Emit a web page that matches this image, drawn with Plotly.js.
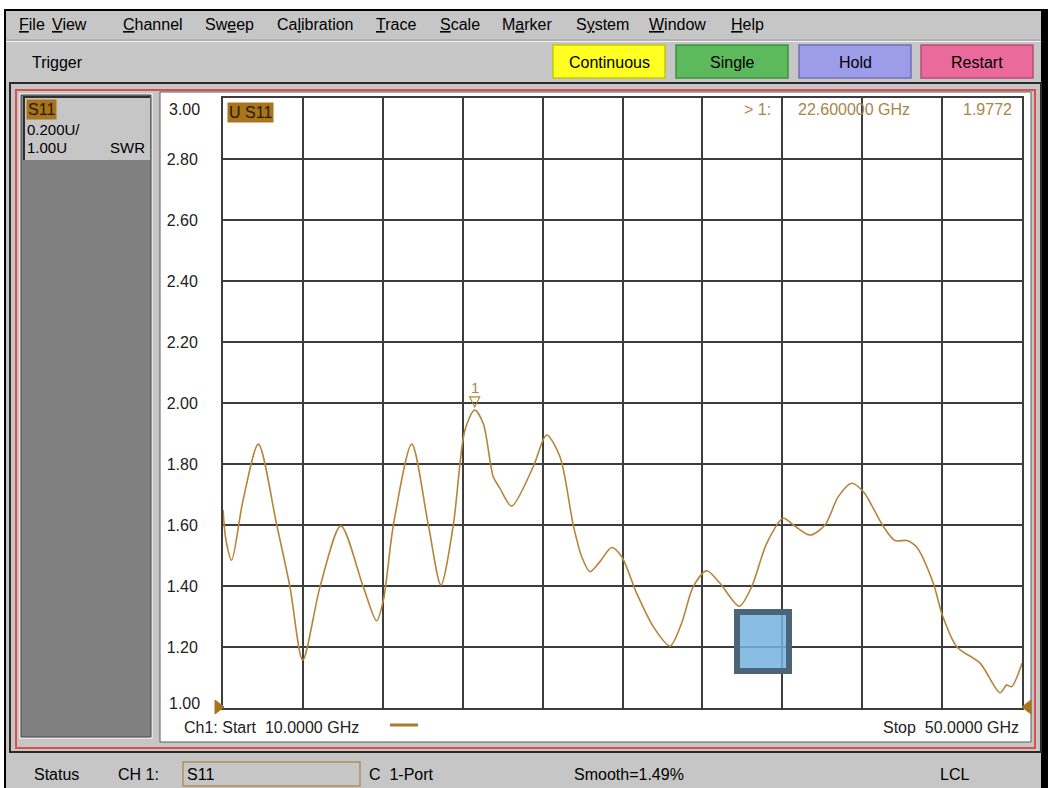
<!DOCTYPE html>
<html><head><meta charset="utf-8">
<script src="https://cdn.plot.ly/plotly-3.0.1.min.js"></script>
<style>html,body{margin:0;padding:0;background:#fff;overflow:hidden}#chart{width:1048px;height:788px}</style>
</head><body><div id="chart"></div>
<script>
// ---------- data ----------
const freqGHz = [10.0, 10.15, 10.43, 11.0, 11.77, 12.69, 13.35, 13.99, 14.86, 15.9, 17.02, 17.69, 18.03, 18.53, 19.45, 20.28, 20.91, 21.53, 22.11, 22.6, 23.03, 23.53, 23.87, 24.45, 25.53, 26.2, 26.87, 27.54, 27.96, 28.37, 28.87, 29.46, 29.96, 30.71, 31.54, 32.38, 32.96, 33.54, 34.21, 34.88, 35.85, 36.47, 37.22, 38.05, 38.55, 39.39, 40.14, 40.8, 41.47, 42.06, 43.06, 43.64, 44.23, 44.73, 45.56, 46.01, 46.73, 47.9, 48.9, 49.23, 49.48, 50.0];
const swr = [1.65, 1.55, 1.485, 1.68, 1.865, 1.60, 1.398, 1.157, 1.398, 1.597, 1.398, 1.286, 1.354, 1.60, 1.865, 1.60, 1.403, 1.60, 1.911, 1.977, 1.933, 1.758, 1.72, 1.662, 1.791, 1.895, 1.824, 1.598, 1.496, 1.447, 1.48, 1.526, 1.496, 1.376, 1.267, 1.203, 1.278, 1.398, 1.45, 1.409, 1.334, 1.398, 1.54, 1.622, 1.60, 1.567, 1.60, 1.693, 1.737, 1.709, 1.595, 1.549, 1.549, 1.527, 1.409, 1.305, 1.201, 1.147, 1.05, 1.075, 1.07, 1.147];
const markerFreq = [22.6];
const markerSwr = [1.9772];
const yTickVals = [1.2, 1.4, 1.6, 1.8, 2.0, 2.2, 2.4, 2.6, 2.8];
const yTickText = ['1.20', '1.40', '1.60', '1.80', '2.00', '2.20', '2.40', '2.60', '2.80'];
const yEndLabels = ['3.00', '1.00'];
const xTickVals = [14, 18, 22, 26, 30, 34, 38, 42, 46];
const menuItems = ['<u>F</u>ile', '<u>V</u>iew', '<u>C</u>hannel', 'Sw<u>e</u>ep', 'Ca<u>l</u>ibration', '<u>T</u>race', '<u>S</u>cale', 'M<u>a</u>rker', 'S<u>y</u>stem', '<u>W</u>indow', '<u>H</u>elp'];
const buttonLabels = ['Continuous', 'Single', 'Hold', 'Restart'];
const startLabel = 'Ch1: Start  10.0000 GHz';
const stopLabel = 'Stop  50.0000 GHz';

// ---------- layout helpers (pixels -> paper) ----------
const L = 223, R = 1022, T = 98, B = 708;
const X = px => (px - L) / (R - L);
const Y = py => (B - py) / (B - T);
const FONT = 'Liberation Sans, Arial, sans-serif';
const shapes = [];
const ann = [];
function rect(x0, y0, x1, y1, fill, lc, lw, layer) {
  shapes.push({type: 'rect', xref: 'paper', yref: 'paper', x0: X(x0), x1: X(x1), y0: Y(y1), y1: Y(y0),
    fillcolor: fill, line: {color: lc || 'rgba(0,0,0,0)', width: lw || 0}, layer: layer || 'below'});
}
function hline(x0, y, x1, color, w, layer) {
  shapes.push({type: 'line', xref: 'paper', yref: 'paper', x0: X(x0), x1: X(x1), y0: Y(y), y1: Y(y),
    line: {color: color, width: w}, layer: layer || 'below'});
}
function vline(x, y0, y1, color, w, layer) {
  shapes.push({type: 'line', xref: 'paper', yref: 'paper', x0: X(x), x1: X(x), y0: Y(y0), y1: Y(y1),
    line: {color: color, width: w}, layer: layer || 'below'});
}
function poly(pts, fill) {
  const d = pts.map((p, i) => (i ? 'L' : 'M') + X(p[0]) + ',' + Y(p[1])).join(' ') + ' Z';
  shapes.push({type: 'path', xref: 'paper', yref: 'paper', path: d, fillcolor: fill, line: {color: fill, width: 1}, layer: 'above'});
}
function txt(x, y, text, o) {
  o = o || {};
  ann.push({xref: 'paper', yref: 'paper', x: X(x), y: Y(y), text: text, showarrow: false,
    xanchor: o.xa || 'left', yanchor: 'middle', bgcolor: o.bg, borderpad: o.pad == null ? 0 : o.pad,
    font: {family: FONT, size: o.size || 16, color: o.color || '#000'}});
}

// ---------- window chrome ----------
rect(4, 9, 1048, 788, '#000000');
rect(6, 11, 1041, 788, '#c6c6c6');
hline(6, 40, 1041, '#9c9c9c', 1);
hline(6, 41.5, 1041, '#f2f2f2', 1);
const menuX = [18, 51, 122, 204, 276, 375, 439, 501, 575, 648, 730];
menuItems.forEach((m, i) => txt(menuX[i], 25, m));
txt(31, 62, 'Trigger');
const btnX = [553, 676, 799, 921];
const btnFill = ['#ffff22', '#5cba5c', '#9c9ce8', '#ea6a9c'];
const btnEdge = ['#c8c800', '#3f903f', '#7070b8', '#b84c76'];
buttonLabels.forEach((b, i) => {
  rect(btnX[i], 45, btnX[i] + 112, 78, btnFill[i], btnEdge[i], 1.5);
  txt(btnX[i] + 56, 62, b, {xa: 'center'});
});
// frame
rect(10, 83, 1041, 752, '#c6c6c6', '#2a2a2a', 2);
rect(16, 90, 1035, 748, 'rgba(0,0,0,0)', '#d9504c', 2);
// left panel
rect(19, 93, 153, 739, '#e4e4e4');
rect(21, 95, 151, 737, '#808080', '#4a4a4a', 1);
rect(23, 96, 150, 160, '#c6c6c6');
hline(23, 97, 150, '#303030', 2);
vline(24, 96, 160, '#303030', 2);
txt(26, 110, 'S11', {bg: '#a8741c', size: 16, color: '#2a1a00', pad: 1});
txt(26, 129, '0.200U/', {size: 15});
txt(26, 147, '1.00U', {size: 15});
txt(146, 147, 'SWR', {size: 15, xa: 'right'});
// white plot panel
rect(160, 92, 1031, 742, '#ffffff', '#5a5a5a', 1);
// status bar
txt(33, 774, 'Status');
txt(117, 774, 'CH 1:');
rect(183, 762, 360, 786, '#c6c6c6', '#b0905c', 1.5);
txt(186, 774, 'S11');
txt(368, 774, 'C  1-Port');
txt(573, 774, 'Smooth=1.49%');
txt(939, 774, 'LCL');

// ---------- in-plot labels ----------
txt(227, 112, 'U S11', {bg: '#a8741c', size: 16, color: '#2a1a00', pad: 1});
txt(772, 110, '&gt; 1:', {xa: 'right', color: '#a8864a'});
txt(797, 110, markerFreq[0].toFixed(6) + ' GHz', {color: '#a8864a'});
txt(1013, 110, markerSwr[0].toFixed(4), {xa: 'right', color: '#a8864a'});
txt(201, 109, yEndLabels[0], {xa: 'right', color: '#222'});
txt(201, 703, yEndLabels[1], {xa: 'right', color: '#222'});
txt(183, 727, startLabel, {color: '#222'});
txt(1020, 727, stopLabel, {xa: 'right', color: '#222'});
hline(390, 725, 418, '#a97d2c', 3, 'above');
// reference-position arrows
poly([[215, 700], [224, 707], [215, 714]], '#a8741c');
poly([[1031, 700], [1022, 707], [1031, 714]], '#a8741c');
// marker triangle (pixel-sized, anchored on the marker datum)
shapes.push({type: 'path', xref: 'x', yref: 'y', xsizemode: 'pixel', ysizemode: 'pixel',
  xanchor: markerFreq[0], yanchor: markerSwr[0], path: 'M -5 13 L 5 13 L 0 3 Z',
  fillcolor: 'rgba(0,0,0,0)', line: {color: '#b08438', width: 1.2}, layer: 'above'});
ann.push({xref: 'x', yref: 'y', x: markerFreq[0], y: markerSwr[0], yshift: 22, text: '1', showarrow: false,
  font: {family: FONT, size: 15, color: '#a8864a'}});
// overlay square
rect(737, 612, 789, 671, 'rgba(118,178,222,0.85)', '#4b6477', 6, 'above');

const trace = {
  x: freqGHz, y: swr, type: 'scatter', mode: 'lines',
  line: {color: '#b5853a', width: 1.6, shape: 'spline', smoothing: 0.8},
  hoverinfo: 'x+y'
};

const gridC = '#3d3d3d';
const layout = {
  width: 1048, height: 788,
  margin: {l: L, r: 1048 - R, t: T, b: 788 - B, pad: 0},
  paper_bgcolor: '#ffffff', plot_bgcolor: '#ffffff',
  showlegend: false,
  xaxis: {range: [10, 50], tickvals: xTickVals, showticklabels: false, ticks: '',
    showgrid: true, gridcolor: gridC, gridwidth: 2, zeroline: false,
    showline: true, linecolor: gridC, linewidth: 2, mirror: true, fixedrange: true},
  yaxis: {range: [1, 3], tickvals: yTickVals, ticktext: yTickText, ticks: '',
    ticklabelstandoff: 20, tickfont: {family: FONT, size: 16, color: '#222'},
    showgrid: true, gridcolor: gridC, gridwidth: 2, zeroline: false,
    showline: true, linecolor: gridC, linewidth: 2, mirror: true, fixedrange: true},
  shapes: shapes,
  annotations: ann,
  font: {family: FONT}
};
Plotly.newPlot('chart', [trace], layout, {displayModeBar: false, staticPlot: true});
</script></body></html>
